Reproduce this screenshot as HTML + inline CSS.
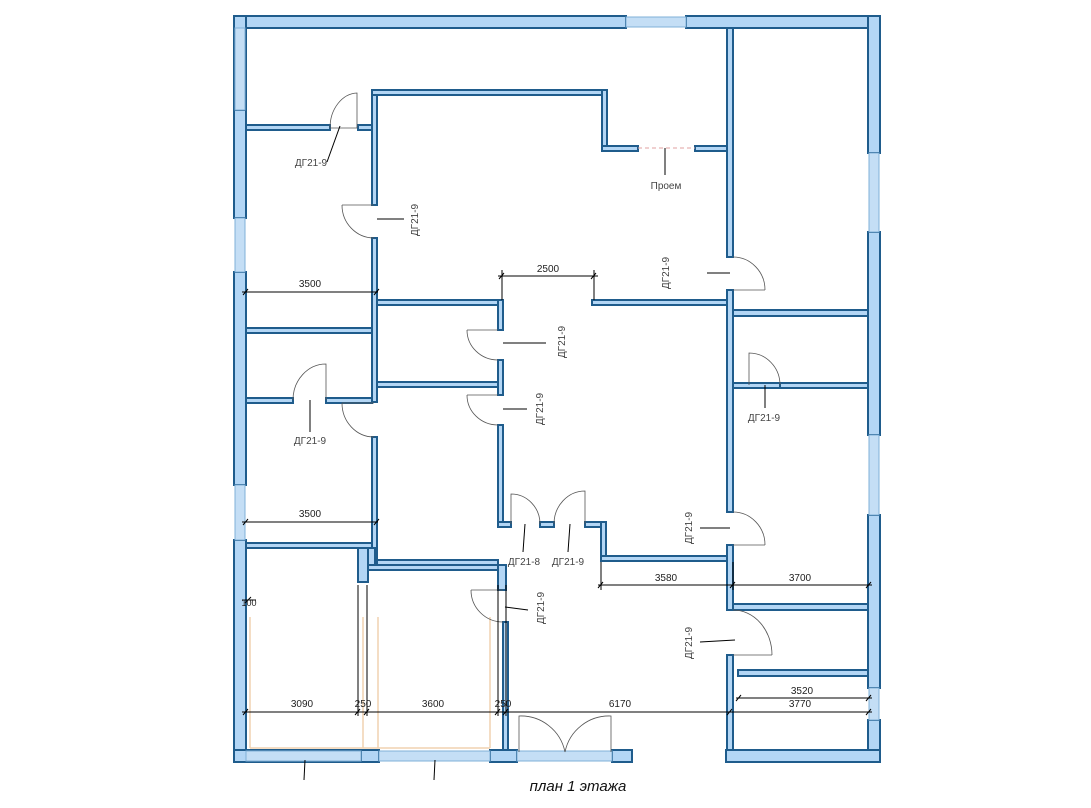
<!DOCTYPE html>
<html><head><meta charset="utf-8"><style>
html,body{margin:0;padding:0;background:#fff;}
svg{display:block;font-family:"Liberation Sans",sans-serif;}
</style></head><body>
<svg width="1091" height="808" viewBox="0 0 1091 808" xmlns="http://www.w3.org/2000/svg">
<g fill="#b3d6f5" stroke="#1f5c8c" stroke-width="2">
<!-- outer walls -->
<rect x="234" y="16" width="392" height="12"/>
<rect x="686" y="16" width="194" height="12"/>
<rect x="234" y="16" width="12" height="94"/>
<rect x="234" y="110" width="12" height="108"/>
<rect x="234" y="272" width="12" height="213"/>
<rect x="234" y="540" width="12" height="222"/>
<rect x="868" y="16" width="12" height="137"/>
<rect x="868" y="232" width="12" height="203"/>
<rect x="868" y="515" width="12" height="173"/>
<rect x="868" y="720" width="12" height="42"/>
<rect x="234" y="750" width="128" height="12"/>
<rect x="361" y="750" width="18" height="12"/>
<rect x="490" y="750" width="27" height="12"/>
<rect x="612" y="750" width="20" height="12"/>
<rect x="726" y="750" width="154" height="12"/>
</g>
<g fill="#c4def5" stroke="#7fb0d8" stroke-width="1">
<rect x="626" y="17" width="60" height="10"/>
<rect x="235" y="28" width="10" height="82"/>
<rect x="235" y="218" width="10" height="54"/>
<rect x="235" y="485" width="10" height="55"/>
<rect x="869" y="153" width="10" height="79"/>
<rect x="869" y="435" width="10" height="80"/>
<rect x="869" y="688" width="10" height="32"/>
<rect x="246" y="751" width="115" height="10"/>
<rect x="379" y="751" width="111" height="10"/>
<rect x="517" y="751" width="95" height="10"/>
</g>
<!-- interior walls -->
<g fill="#b3d6f5" stroke="#1f5c8c" stroke-width="2">
<rect x="246" y="125" width="84" height="5"/>
<rect x="358" y="125" width="16" height="5"/>
<rect x="372" y="90" width="5" height="115"/>
<rect x="372" y="238" width="5" height="164"/>
<rect x="372" y="437" width="5" height="128"/>
<rect x="372" y="90" width="235" height="5"/>
<rect x="602" y="90" width="5" height="60"/>
<rect x="602" y="146" width="36" height="5"/>
<rect x="695" y="146" width="37" height="5"/>
<rect x="727" y="28" width="6" height="229"/>
<rect x="727" y="290" width="6" height="222"/>
<rect x="727" y="545" width="6" height="65"/>
<rect x="727" y="655" width="6" height="95"/>
<rect x="733" y="310" width="135" height="6"/>
<rect x="246" y="328" width="126" height="5"/>
<rect x="377" y="300" width="125" height="5"/>
<rect x="498" y="300" width="5" height="30"/>
<rect x="498" y="360" width="5" height="35"/>
<rect x="498" y="425" width="5" height="100"/>
<rect x="592" y="300" width="135" height="5"/>
<rect x="377" y="382" width="121" height="5"/>
<rect x="246" y="398" width="47" height="5"/>
<rect x="326" y="398" width="46" height="5"/>
<rect x="377" y="560" width="121" height="5"/>
<rect x="498" y="522" width="13" height="5"/>
<rect x="540" y="522" width="14" height="5"/>
<rect x="585" y="522" width="21" height="5"/>
<rect x="601" y="522" width="5" height="39"/>
<rect x="601" y="556" width="126" height="5"/>
<rect x="733" y="383" width="47" height="5"/>
<rect x="780" y="383" width="88" height="5"/>
<rect x="733" y="604" width="135" height="6"/>
<rect x="738" y="670" width="130" height="6"/>
<rect x="246" y="543" width="126" height="5"/>
<rect x="358" y="548" width="10" height="34"/>
<rect x="368" y="548" width="7" height="17"/>
<rect x="368" y="565" width="134" height="5"/>
<rect x="498" y="565" width="8" height="25"/>
<rect x="503" y="622" width="5" height="128"/>
</g>
<!-- orange lines -->
<g stroke="#f0d2b0" stroke-width="1.5" fill="none">
<line x1="250" y1="617" x2="250" y2="748"/><line x1="363" y1="617" x2="363" y2="748"/>
<line x1="378" y1="617" x2="378" y2="748"/><line x1="490" y1="617" x2="490" y2="748"/>
<line x1="250" y1="748" x2="490" y2="748"/>
</g>
<!-- doors -->
<g stroke="#555" stroke-width="0.8" fill="none">
<path d="M357 128 L357 93 A28 35 0 0 0 330 128"/><line x1="330" y1="128" x2="357" y2="128"/>
<path d="M342 205 L374 205 M342 205 A32 33 0 0 0 374 238"/>
<path d="M733 290 L765 290 M765 290 A32 33 0 0 0 733 257"/>
<path d="M467 330 L498 330 M467 330 A31 30 0 0 0 498 360"/>
<path d="M467 395 L498 395 M467 395 A31 30 0 0 0 498 425"/>
<path d="M326 400 L326 364 A33 36 0 0 0 293 400"/>
<path d="M342 403 L374 403 M342 403 A32 34 0 0 0 374 437"/>
<path d="M749 385 L749 353 A31 32 0 0 1 780 385"/>
<path d="M733 545 L765 545 M765 545 A32 33 0 0 0 733 512"/>
<path d="M733 655 L772 655 M772 655 A39 45 0 0 0 733 610"/>
<path d="M511 524 L511 494 A29 30 0 0 1 540 524"/>
<path d="M585 524 L585 491 A31 33 0 0 0 554 524"/>
<path d="M471 590 L503 590 M471 590 A32 32 0 0 0 503 622"/>
<path d="M519 752 L519 716 A45 45 0 0 1 565 752 M611 752 L611 716 A45 45 0 0 0 565 752"/>
</g>
<line x1="638" y1="148" x2="695" y2="148" stroke="#e0a0a0" stroke-width="1" stroke-dasharray="4,3"/>
<!-- leader lines -->
<g stroke="#000" stroke-width="1">
<line x1="340" y1="126" x2="327" y2="162"/>
<line x1="377" y1="219" x2="404" y2="219"/>
<line x1="665" y1="148" x2="665" y2="175"/>
<line x1="707" y1="273" x2="730" y2="273"/>
<line x1="503" y1="343" x2="546" y2="343"/>
<line x1="503" y1="409" x2="527" y2="409"/>
<line x1="310" y1="400" x2="310" y2="432"/>
<line x1="765" y1="385" x2="765" y2="408"/>
<line x1="700" y1="528" x2="730" y2="528"/>
<line x1="700" y1="642" x2="735" y2="640"/>
<line x1="525" y1="524" x2="523" y2="552"/>
<line x1="570" y1="524" x2="568" y2="552"/>
<line x1="505" y1="607" x2="528" y2="610"/>
<line x1="305" y1="760" x2="304" y2="780"/>
<line x1="435" y1="760" x2="434" y2="780"/>
</g>
<!-- dimensions -->
<g stroke="#000" stroke-width="1">
<line x1="242" y1="292" x2="378" y2="292"/>
<line x1="242" y1="522" x2="378" y2="522"/>
<line x1="498" y1="276" x2="598" y2="276"/><line x1="502" y1="270" x2="502" y2="300"/><line x1="594" y1="270" x2="594" y2="300"/>
<line x1="242" y1="712" x2="872" y2="712"/>
<line x1="358" y1="585" x2="358" y2="716"/><line x1="367" y1="585" x2="367" y2="716"/>
<line x1="498" y1="585" x2="498" y2="716"/><line x1="506" y1="585" x2="506" y2="716"/>
<line x1="598" y1="585" x2="872" y2="585"/><line x1="601" y1="562" x2="601" y2="590"/><line x1="733" y1="562" x2="733" y2="590"/>
<line x1="736" y1="698" x2="872" y2="698"/>
<line x1="242" y1="600" x2="256" y2="600"/>
</g>
<g stroke="#000" stroke-width="1">
<path d="M243 295 l5 -6 M374 295 l5 -6 M243 525 l5 -6 M374 525 l5 -6 M499 279 l5 -6 M591 279 l5 -6 M243 715 l5 -6 M355 715 l5 -6 M364 715 l5 -6 M495 715 l5 -6 M503 715 l5 -6 M727 715 l5 -6 M866 715 l5 -6 M598 588 l5 -6 M730 588 l5 -6 M866 588 l5 -6 M736 701 l5 -6 M866 701 l5 -6 M245 603 l6 -6"/>
</g>
<g font-size="10" fill="#222">
<text x="310" y="287" text-anchor="middle">3500</text>
<text x="310" y="517" text-anchor="middle">3500</text>
<text x="548" y="272" text-anchor="middle">2500</text>
<text x="302" y="707" text-anchor="middle">3090</text>
<text x="363" y="707" text-anchor="middle">250</text>
<text x="433" y="707" text-anchor="middle">3600</text>
<text x="503" y="707" text-anchor="middle">250</text>
<text x="620" y="707" text-anchor="middle">6170</text>
<text x="800" y="707" text-anchor="middle">3770</text>
<text x="666" y="581" text-anchor="middle">3580</text>
<text x="800" y="581" text-anchor="middle">3700</text>
<text x="802" y="694" text-anchor="middle">3520</text>
<text x="249" y="606" text-anchor="middle" font-size="9">100</text>
</g>
<g font-size="10" fill="#444">
<text x="311" y="166" text-anchor="middle">ДГ21-9</text>
<text x="666" y="189" text-anchor="middle">Проем</text>
<text x="310" y="444" text-anchor="middle">ДГ21-9</text>
<text x="764" y="421" text-anchor="middle">ДГ21-9</text>
<text x="524" y="565" text-anchor="middle">ДГ21-8</text>
<text x="568" y="565" text-anchor="middle">ДГ21-9</text>
<text transform="translate(418,220) rotate(-90)" text-anchor="middle">ДГ21-9</text>
<text transform="translate(669,273) rotate(-90)" text-anchor="middle">ДГ21-9</text>
<text transform="translate(565,342) rotate(-90)" text-anchor="middle">ДГ21-9</text>
<text transform="translate(543,409) rotate(-90)" text-anchor="middle">ДГ21-9</text>
<text transform="translate(692,528) rotate(-90)" text-anchor="middle">ДГ21-9</text>
<text transform="translate(692,643) rotate(-90)" text-anchor="middle">ДГ21-9</text>
<text transform="translate(544,608) rotate(-90)" text-anchor="middle">ДГ21-9</text>
</g>
<text x="578" y="791" text-anchor="middle" font-size="15" font-style="italic" fill="#111">план 1 этажа</text>
</svg>
</body></html>
